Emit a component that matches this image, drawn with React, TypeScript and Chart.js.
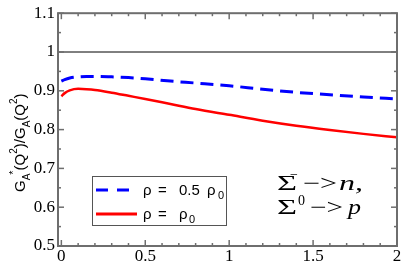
import { useEffect, useRef } from "react";
import { Chart, registerables } from "chart.js";

Chart.register(...registerables);

// Q^2 values (GeV^2)
const qValues = [0, 0.02, 0.05, 0.1, 0.15, 0.2, 0.3, 0.4, 0.5, 0.65, 0.8, 1.0, 1.2, 1.4, 1.6, 1.8, 2.0];
// rho = 0.5 rho0 (blue dashed)
const halfRhoValues = [0.925, 0.929, 0.933, 0.936, 0.937, 0.937, 0.936, 0.934, 0.931, 0.925, 0.92, 0.913, 0.904, 0.896, 0.89, 0.884, 0.879];
// rho = rho0 (red solid)
const fullRhoValues = [0.886, 0.894, 0.901, 0.905, 0.904, 0.902, 0.895, 0.887, 0.879, 0.866, 0.853, 0.838, 0.823, 0.81, 0.799, 0.789, 0.78];
const referenceLevel = 1;

const xMin = -0.02;
const xMax = 2;
const yMin = 0.5;
const yMax = 1.1;
const xTicks = [0, 0.5, 1, 1.5, 2];
const xTickLabels = ["0", "0.5", "1", "1.5", "2"];
const yTicks = [0.5, 0.6, 0.7, 0.8, 0.9, 1, 1.1];
const yTickLabels = ["0.5", "0.6", "0.7", "0.8", "0.9", "1", "1.1"];
const xMinorTicks = [0.1, 0.2, 0.3, 0.4, 0.6, 0.7, 0.8, 0.9, 1.1, 1.2, 1.3, 1.4, 1.6, 1.7, 1.8, 1.9];
const yMinorTicks = [0.55, 0.65, 0.75, 0.85, 0.95, 1.05];

const seriesNames = ["ρ = 0.5 ρ0", "ρ = ρ0"];

const SERIF = "Liberation Serif";
const SANS = "Liberation Sans";

function drawStretched(ctx: CanvasRenderingContext2D, text: string, x: number, y: number, width: number) {
  const w = ctx.measureText(text).width;
  ctx.save();
  ctx.translate(x, y);
  ctx.scale(width / w, 1);
  ctx.fillText(text, 0, 0);
  ctx.restore();
}

const decorPlugin = {
  id: "decor",
  afterDraw(chart: any) {
    const ctx: CanvasRenderingContext2D = chart.ctx;
    const a = chart.chartArea;
    const xs = chart.scales.x;
    const ys = chart.scales.y;
    ctx.save();
    // frame
    ctx.strokeStyle = "#6e6e6e";
    ctx.lineWidth = 2;
    ctx.strokeRect(a.left, a.top, a.right - a.left, a.bottom - a.top);
    // inward ticks
    ctx.lineWidth = 1.5;
    const tick = (x1: number, y1: number, x2: number, y2: number) => {
      ctx.beginPath();
      ctx.moveTo(x1, y1);
      ctx.lineTo(x2, y2);
      ctx.stroke();
    };
    xTicks.forEach((v) => {
      const p = xs.getPixelForValue(v);
      tick(p, a.bottom, p, a.bottom - 6);
      tick(p, a.top, p, a.top + 6);
    });
    xMinorTicks.forEach((v) => {
      const p = xs.getPixelForValue(v);
      tick(p, a.bottom, p, a.bottom - 3);
      tick(p, a.top, p, a.top + 3);
    });
    yTicks.forEach((v) => {
      const p = ys.getPixelForValue(v);
      tick(a.left, p, a.left + 6, p);
      tick(a.right, p, a.right - 6, p);
    });
    yMinorTicks.forEach((v) => {
      const p = ys.getPixelForValue(v);
      tick(a.left, p, a.left + 3, p);
      tick(a.right, p, a.right - 3, p);
    });

    // legend box
    ctx.strokeStyle = "#555";
    ctx.lineWidth = 1;
    ctx.strokeRect(92.5, 176.5, 134, 49);
    ctx.lineWidth = 3;
    ctx.strokeStyle = "#0000ff";
    ctx.setLineDash([12, 9]);
    tick(96, 190, 135, 190);
    ctx.setLineDash([]);
    ctx.strokeStyle = "#ff0000";
    tick(96, 214, 137, 214);
    ctx.fillStyle = "#000";
    ctx.textBaseline = "alphabetic";
    ctx.textAlign = "left";
    ctx.font = `15px ${SANS}`;
    ctx.fillText("ρ", 143, 195);
    ctx.fillText("=", 158, 195);
    ctx.fillText("0.5", 179, 195);
    ctx.fillText("ρ", 207, 195);
    ctx.fillText("ρ", 143, 219);
    ctx.fillText("=", 158, 219);
    ctx.fillText("ρ", 179, 219);
    ctx.font = `11px ${SANS}`;
    ctx.fillText("0", 218, 199);
    ctx.fillText("0", 189, 223);

    // annotation
    ctx.font = `21px ${SERIF}`;
    drawStretched(ctx, "Σ", 277, 190, 20);
    drawStretched(ctx, "−>", 303, 190, 34);
    drawStretched(ctx, "Σ", 277, 214, 20);
    drawStretched(ctx, "−>", 310, 214, 33);
    ctx.font = `italic 21px ${SERIF}`;
    drawStretched(ctx, "n,", 339, 190, 24);
    drawStretched(ctx, "p", 348, 214, 13);
    ctx.font = `14px ${SERIF}`;
    ctx.fillText("−", 290, 179);
    ctx.fillText("0", 298, 205);

    // y-axis title, rotated
    ctx.save();
    ctx.translate(25, 192);
    ctx.rotate(-Math.PI / 2);
    let cx = 0;
    const seg = (t: string, size: number, dy: number) => {
      ctx.font = `${size}px ${SANS}`;
      ctx.fillText(t, cx, dy);
      cx += ctx.measureText(t).width;
    };
    seg("G", 15, 0);
    seg("A", 10, 5);
    cx -= 1;
    seg("*", 11, -8);
    seg("(Q", 15, 0);
    seg("2", 10, -8);
    seg(")/G", 15, 0);
    seg("A", 10, 5);
    seg("(Q", 15, 0);
    seg("2", 10, -8);
    seg(")", 15, 0);
    ctx.restore();

    ctx.restore();
  },
};

export default function App() {
  const ref = useRef<HTMLCanvasElement | null>(null);
  useEffect(() => {
    document.body.style.margin = "0";
    Chart.defaults.font.family = SERIF;
    const canvas = ref.current!;
    const chart = new Chart(canvas, {
      type: "line",
      data: {
        datasets: [
          {
            label: "ref",
            data: [
              { x: xMin, y: referenceLevel },
              { x: xMax, y: referenceLevel },
            ],
            borderColor: "#000",
            borderWidth: 1,
            pointRadius: 0,
          },
          {
            label: seriesNames[0],
            data: qValues.map((q, i) => ({ x: q, y: halfRhoValues[i] })),
            borderColor: "#0000ff",
            borderWidth: 3,
            borderDash: [13, 7],
            pointRadius: 0,
            cubicInterpolationMode: "monotone",
          },
          {
            label: seriesNames[1],
            data: qValues.map((q, i) => ({ x: q, y: fullRhoValues[i] })),
            borderColor: "#ff0000",
            borderWidth: 2.5,
            pointRadius: 0,
            cubicInterpolationMode: "monotone",
          },
        ],
      },
      options: {
        animation: false,
        responsive: false,
        devicePixelRatio: 1,
        layout: { padding: { top: 6, right: 5, left: 0, bottom: 0 } },
        plugins: { legend: { display: false }, tooltip: { enabled: false } },
        scales: {
          x: {
            type: "linear",
            min: xMin,
            max: xMax,
            grid: { display: false, drawTicks: false },
            border: { display: false },
            afterBuildTicks: (s: any) => {
              s.ticks = xTicks.map((v) => ({ value: v }));
            },
            afterFit: (s: any) => {
              s.height = 17;
            },
            ticks: {
              autoSkip: false,
              maxRotation: 0,
              padding: 0,
              color: "#000",
              font: { family: SERIF, size: 17 },
              callback: (_v: any, i: number) => xTickLabels[i],
            },
          },
          y: {
            type: "linear",
            min: yMin,
            max: yMax,
            grid: { display: false, drawTicks: false },
            border: { display: false },
            afterBuildTicks: (s: any) => {
              s.ticks = yTicks.map((v) => ({ value: v }));
            },
            afterFit: (s: any) => {
              s.width = 58;
            },
            ticks: {
              autoSkip: false,
              padding: 3,
              color: "#000",
              font: { family: SERIF, size: 17 },
              callback: (_v: any, i: number) => yTickLabels[i],
            },
          },
        },
      },
      plugins: [decorPlugin],
    } as any);
    return () => chart.destroy();
  }, []);
  return <canvas ref={ref} width={402} height={263} style={{ display: "block" }} />;
}
